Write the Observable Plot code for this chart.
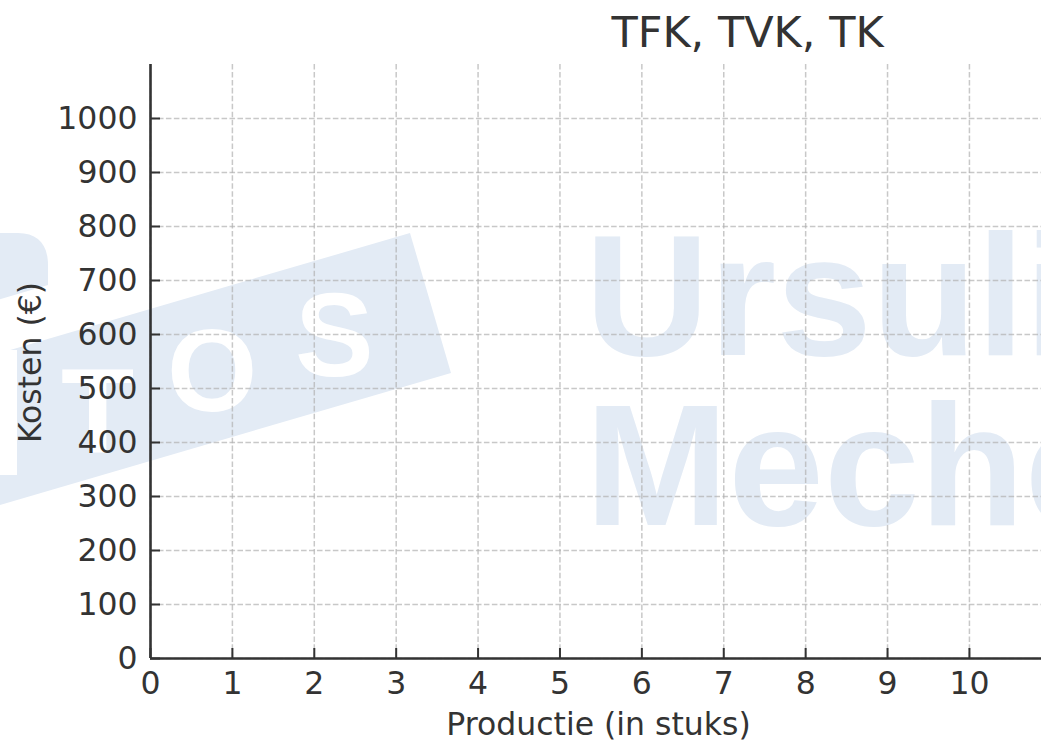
<!DOCTYPE html>
<html><head><meta charset="utf-8">
<script src="https://cdn.jsdelivr.net/npm/d3@7"></script>
<script src="https://cdn.jsdelivr.net/npm/@observablehq/plot@0.6"></script>
<style>html,body{margin:0;padding:0;background:#fff;}</style>
</head><body><div id="chart"></div>
<script>
const titleText = "TFK, TVK, TK";
const xLabel = "Productie (in stuks)";
const yLabel = "Kosten (€)";
const xTicks = [0, 1, 2, 3, 4, 5, 6, 7, 8, 9, 10];
const yTicks = [0, 100, 200, 300, 400, 500, 600, 700, 800, 900, 1000];
const xDomain = [0, 10.88];
const yDomain = [0, 1100];
const watermarkLines = ["Ursuline", "Mechelen"];
const logoLetters = ["T", "O", "S"];

const ink = "#333";
const blue = "rgb(227,235,245)";

function watermark() {
  return () => {
    const g = d3.create("svg:g").attr("aria-label", "watermark").attr("text-anchor", "start");
    g.append("path").attr("d", "M-60,317 L48,285 L48,265 C48,245 38,233 18,233 L-60,233 Z").attr("fill", blue);
    g.append("path").attr("d", "M-50,367.5 L410,233 L451,373 L-50,519.5 Z").attr("fill", blue);
    g.append("rect").attr("x", -20).attr("y", 350).attr("width", 37).attr("height", 125).attr("fill", "white");
    const letterPos = [[61, 453, 120], [167, 411, 116], [295, 376, 118]];
    logoLetters.forEach((L, i) => {
      g.append("text").attr("x", letterPos[i][0]).attr("y", letterPos[i][1])
        .attr("text-anchor", "start")
        .attr("font-family", "Liberation Sans").attr("font-weight", "bold")
        .attr("font-size", letterPos[i][2]).attr("fill", "white").text(L);
    });
    const baselines = [355, 525];
    watermarkLines.forEach((t, i) => {
      g.append("text").attr("x", 585).attr("y", baselines[i])
        .attr("text-anchor", "start")
        .attr("font-family", "Liberation Sans").attr("font-weight", "bold")
        .attr("font-size", 172).attr("fill", blue).text(t);
    });
    return g.node();
  };
}

const chart = Plot.plot({
  width: 1041,
  height: 742,
  marginLeft: 150,
  marginRight: 0,
  marginTop: 64,
  marginBottom: 84,
  style: {fontFamily: "DejaVu Sans", color: ink, background: "white"},
  x: {domain: xDomain, label: null},
  y: {domain: yDomain, label: null},
  marks: [
    watermark(),
    Plot.gridX({ticks: xTicks, stroke: "#b0b0b0", strokeOpacity: 0.7, strokeWidth: 1.5, strokeDasharray: "5.55,2.4"}),
    Plot.gridY({ticks: yTicks, stroke: "#b0b0b0", strokeOpacity: 0.7, strokeWidth: 1.5, strokeDasharray: "5.55,2.4"}),
    Plot.ruleX(xTicks, {x: d => d, y1: 0, y2: 0, insetTop: -10, stroke: ink, strokeWidth: 2}),
    Plot.ruleY(yTicks, {y: d => d, x1: 0, x2: 0, insetRight: -10, stroke: ink, strokeWidth: 2}),
    Plot.ruleX([0], {stroke: ink, strokeWidth: 2.6}),
    Plot.ruleY([0], {stroke: ink, strokeWidth: 2.6}),
    Plot.axisX({ticks: xTicks, tickSize: 0, tickPadding: 13, fontSize: 31.5, label: null, tickFormat: d => String(d), fill: ink}),
    Plot.axisY({ticks: yTicks, tickSize: 0, tickPadding: 13, fontSize: 31.5, label: null, tickFormat: d => String(d), fill: ink}),
    Plot.text([titleText], {text: d => d, frameAnchor: "top-left", dx: 597, dy: -31, textAnchor: "middle", lineAnchor: "middle", fontSize: 43, fill: ink}),
    Plot.text([xLabel], {text: d => d, frameAnchor: "bottom-left", dx: 448, dy: 66.4, textAnchor: "middle", lineAnchor: "middle", fontSize: 31.5, fill: ink}),
    Plot.text([yLabel], {text: d => d, frameAnchor: "left", dx: -120, dy: 1, rotate: -90, textAnchor: "middle", lineAnchor: "middle", fontSize: 31.5, fill: ink})
  ]
});
document.getElementById("chart").appendChild(chart);
</script>
</body></html>
